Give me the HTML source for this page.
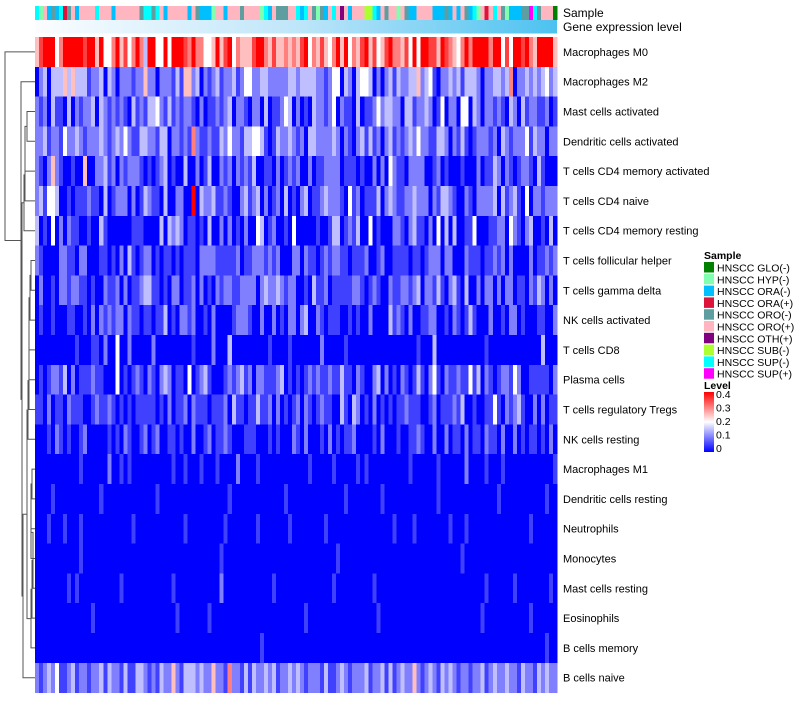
<!DOCTYPE html>
<html><head><meta charset="utf-8"><style>
html,body{margin:0;padding:0;background:#fff;}
svg text{font-family:"Liberation Sans",sans-serif;}
#cells rect,#samplebar rect{shape-rendering:crispEdges;}
</style></head><body>
<svg id="chart" width="800" height="700" xmlns="http://www.w3.org/2000/svg">
<defs>
<linearGradient id="geneGrad" x1="0" x2="1" y1="0" y2="0"><stop offset="0" stop-color="#fbfdff"/><stop offset="0.5" stop-color="#bfe6f9"/><stop offset="1" stop-color="#4cc2f0"/></linearGradient>
<linearGradient id="levelGrad" x1="0" x2="0" y1="0" y2="1"><stop offset="0" stop-color="#ff0000"/><stop offset="0.5" stop-color="#ffffff"/><stop offset="1" stop-color="#0000ff"/></linearGradient>
</defs>
<g id="samplebar"></g>
<rect x="35" y="20" width="522" height="13.5" fill="url(#geneGrad)"/>
<g id="cells"></g>
<g id="dendro" stroke="#555" stroke-width="1" fill="none"></g>
<g id="rowlabels" font-size="11" fill="#000"></g>
<text x="563" y="17" font-size="12">Sample</text>
<text x="563" y="31" font-size="12">Gene expression level</text>
<g id="legend" font-size="10.5"></g>
<text x="704" y="389" font-size="10.5" font-weight="bold">Level</text>
<rect x="704" y="392" width="10" height="60" fill="url(#levelGrad)"/>
<g id="levelticks" font-size="10.5"></g>
</svg>
<script>
const rowNames = ["Macrophages M0","Macrophages M2","Mast cells activated","Dendritic cells activated","T cells CD4 memory activated","T cells CD4 naive","T cells CD4 memory resting","T cells follicular helper","T cells gamma delta","NK cells activated","T cells CD8","Plasma cells","T cells regulatory  Tregs","NK cells resting","Macrophages M1","Dendritic cells resting","Neutrophils","Monocytes","Mast cells resting","Eosinophils","B cells memory","B cells naive"];
const sampleCodes = "ibfcecidef cffffifffc ffffffeiie ifcfffffcf ecccbffcff feffffbicf eeef ficifebecf ifgfcfffhh icfeffbfec cffffcccec fcfecibfdf ifebccceej iefffa";
const sampleNames = ["HNSCC GLO(-)","HNSCC HYP(-)","HNSCC ORA(-)","HNSCC ORA(+)","HNSCC ORO(-)","HNSCC ORO(+)","HNSCC OTH(+)","HNSCC SUB(-)","HNSCC SUP(-)","HNSCC SUP(+)"];
const sampleKeys = "abcdefghij";
const sampleColors = ["#008000","#80ffb0","#00bfff","#dc143c","#5f9ea0","#ffb6c1","#800080","#adff2f","#00ffff","#ff00ff"];
const levelTicks = [0,0.1,0.2,0.3,0.4];
// cell values: digit d => d*0.05
const rowValues = [
"5788846888 8878858446 8574686388 4484888768 6644585784 6555788657 5565657846 5754685846 5785745786 6574848877 5876546868 8886884748 8786588885",
"0230333535 3331223032 0222122522 0222131552 3021231223 1244223322 2223323333 2212440320 3443020231 3223352341 0223231333 2022332360 2232323423",
"2120311030 2122303212 1210312133 4213121221 0201121230 2210220301 1243020103 2212402110 3011242332 2033122320 1402204403 2022121032 0312211201",
"2231221422 3212223212 3242113322 1330221216 2112113242 2133443101 3223212033 2222320210 2313120231 2123242211 3320213101 2221203212 2241322022",
"2102521001 0050022312 0212221010 1230100300 2013002120 2121300110 2012120020 1122220111 0100202042 1102222001 2010001000 2011320210 1221031000",
"2314430010 1112110301 2220201321 1030022008 0322311210 0231230201 2030102301 1232221041 2011130232 1122322202 1332100210 2222303123 1040221222",
"3010402021 1001003100 0000111000 0303232011 0103002020 1020043012 0010400000 1001330121 3004010002 2102311020 4030300114 0001122042 1023001030",
"2100002211 0220001101 0203101220 1011010111 0222211111 2011222121 2000220211 0121221101 1120012001 1110110122 2022000211 1011212020 0002011212",
"0200102212 2110100211 2020112331 1010220112 0201021221 1222202322 3212200103 1120111112 2101210021 1221230221 3102310300 2022020220 1102132020",
"0100100011 0010202121 2202110110 1130102212 0010200001 2221002002 0102202300 2101110010 1002000031 2102001122 0010210131 0002001022 0100011002",
"0000000000 1000110200 4002000002 0000000001 0000200030 0000000010 0001000000 0200000100 0000000000 0000010003 0000000000 0010000000 0000003000",
"0101221302 0111211000 4010121021 0232011040 1231000121 2312022111 2301010121 2112113110 2100230201 0210131024 1021121141 3021012214 2001111102",
"1102011021 1100121121 0101011111 0102011202 1110111203 1101131120 2010120210 1211003103 2010201010 1121110012 0111213001 0011410212 3100202011",
"0001021010 0120000010 1021001201 2001101002 0012011210 0011100010 1000210200 0102010112 0000102000 1001121002 0020110201 1021102002 0101101020",
"0000000000 0100000020 0101000000 0000100100 0100010000 2000010000 0000000010 0000100000 1010000000 0001000000 1000000200 0010001000 0000000001",
"0000100000 0000001000 0000000000 1000000000 0000000010 0000000000 0010000000 0000000100 0000001000 0000000000 1000000000 0000010000 0000000100",
"0001000100 0100000000 0000100000 0000000100 0000000100 0000010000 0001000000 0010000000 0000000001 0000100000 0001000100 0000000000 0001000000",
"0000000000 0100000000 0000000000 0000000000 0000001000 0000000000 0000000000 0000010000 0000000000 0000000000 0000001000 0000000000 0000000000",
"0000000010 1000000000 0100000000 0000100000 0000002000 0000000001 0000000000 0000100000 0000100000 0000000000 0000000000 0010000001 0000000010",
"0000000000 0000100000 0000000000 0000010000 0001000000 0000000000 0000000100 0000000000 0000010000 0000000000 0000000000 0100000000 0001000000",
"0000000000 0000000000 0000000000 0000000000 0000000000 0000001000 0000000000 0000000000 0000000000 0000000000 0000000000 0000000000 0000000100",
"2123241123 1221223132 2131133212 1322521333 2322522162 2131322323 1223232122 2131123212 2231223131 2322521232 1323212212 2312322322 1322132322"
];
// dendrogram merges: [left, right, height] (leaf ids 0..21; internal nodes numbered from 22)
const merges = [[2,3,27],[22,4,25],[23,5,25],[24,6,24],[7,8,31],[26,9,30],[27,10,29],[28,11,29],[29,12,29],[30,13,28],[14,15,32],[32,16,31],[33,17,31],[34,18,33],[35,19,32],[36,20,31],[31,37,27],[38,21,23],[25,39,22],[1,40,21],[0,41,5]];

const NS="http://www.w3.org/2000/svg";
const X0=35, X1=557, Y0=37, RH=29.8;
const samples = sampleCodes.replace(/\s/g,'').split('');
const nCols = samples.length, CW=(X1-X0)/nCols;
const xCol = i => X0 + i*CW;
const yRow = r => Y0 + r*RH;
function colorOf(v){
  const t=Math.max(0,Math.min(0.4,v))/0.4;
  let r,g,b;
  if(t<0.5){const u=t/0.5; r=Math.round(255*u); g=r; b=255;}
  else {const u=(t-0.5)/0.5; r=255; g=Math.round(255*(1-u)); b=g;}
  return `rgb(${r},${g},${b})`;
}
const sb=document.getElementById('samplebar');
samples.forEach((c,i)=>{
  const r=document.createElementNS(NS,'rect');
  r.setAttribute('x',xCol(i)); r.setAttribute('y',6); r.setAttribute('width',CW+0.5); r.setAttribute('height',14);
  r.setAttribute('fill',sampleColors[sampleKeys.indexOf(c)]);
  
  
  sb.appendChild(r);
});
const cells=document.getElementById('cells');
rowValues.forEach((s,ri)=>{
  const d=s.replace(/\s/g,'');
  for(let i=0;i<nCols;i++){
    const v=parseInt(d[i%d.length])*0.05;
    const r=document.createElementNS(NS,'rect');
    r.setAttribute('x',xCol(i)); r.setAttribute('y',yRow(ri)); r.setAttribute('width',CW+0.5); r.setAttribute('height',RH+0.5);
    r.setAttribute('fill',colorOf(v));
    
    
    cells.appendChild(r);
  }
});
const rl=document.getElementById('rowlabels');
rowNames.forEach((n,ri)=>{
  const t=document.createElementNS(NS,'text');
  t.setAttribute('x',563); t.setAttribute('y',yRow(ri)+RH/2+4);
  t.textContent=n;
  
  
  rl.appendChild(t);
});
const dn=document.getElementById('dendro');
const pos={};
rowNames.forEach((n,i)=>{pos[i]={x:X0,y:yRow(i)+RH/2};});
merges.forEach((m,k)=>{
  const a=pos[m[0]], b=pos[m[1]], h=m[2];
  const p=document.createElementNS(NS,'path');
  p.setAttribute('d',`M${a.x},${a.y}H${h}V${b.y}H${b.x}`);
  
  
  dn.appendChild(p);
  pos[22+k]={x:h,y:(a.y+b.y)/2};
});
const lg=document.getElementById('legend');
const tt=document.createElementNS(NS,'text');
tt.setAttribute('x',704); tt.setAttribute('y',259); tt.setAttribute('font-weight','bold'); tt.textContent='Sample';


lg.appendChild(tt);
sampleNames.forEach((n,i)=>{
  const y=262+i*11.8;
  const r=document.createElementNS(NS,'rect');
  r.setAttribute('x',704); r.setAttribute('y',y); r.setAttribute('width',10); r.setAttribute('height',10.5); r.setAttribute('fill',sampleColors[i]);
  
  
  lg.appendChild(r);
  const t=document.createElementNS(NS,'text');
  t.setAttribute('x',717); t.setAttribute('y',y+9.5); t.textContent=n;
  
  
  lg.appendChild(t);
});
const lt=document.getElementById('levelticks');
levelTicks.forEach(v=>{
  const y=452-(v/0.4)*54;
  const t=document.createElementNS(NS,'text');
  t.setAttribute('x',716); t.setAttribute('y',y); t.textContent=String(v);
  
  
  lt.appendChild(t);
});
</script>
</body></html>
